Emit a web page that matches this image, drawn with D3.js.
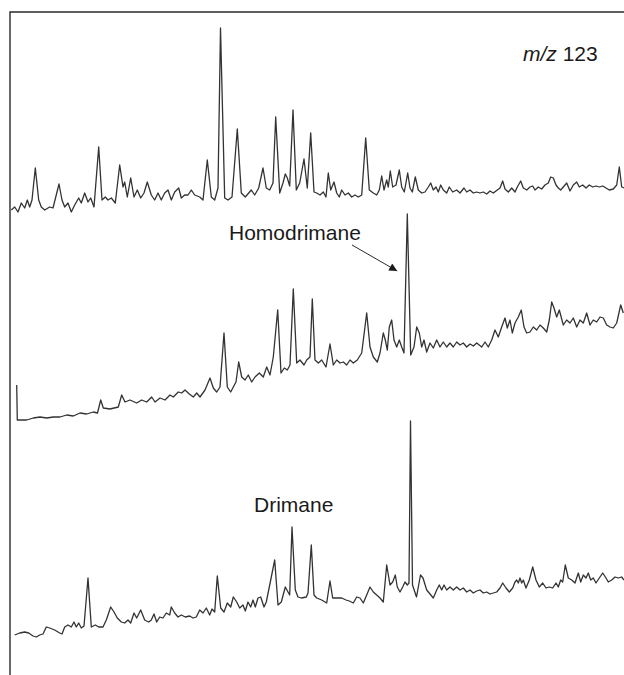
<!DOCTYPE html>
<html>
<head>
<meta charset="utf-8">
<script src="https://cdn.jsdelivr.net/npm/d3@7"></script>
<style>
  body { margin: 0; background: #fff; }
  svg { display: block; }
  .trace { fill: none; stroke: #333; stroke-width: 1.3; stroke-linejoin: round; }
  .label { font-family: "Liberation Sans", Arial, sans-serif; font-size: 21px; fill: #1a1a1a; }
</style>
</head>
<body>
<svg id="chart" width="624" height="675"></svg>
<script>
// m/z 123 mass chromatograms, three samples stacked
// each point = [retention time (min), abundance (arb. units)]
var sample1 = [
  [1.13,5],[1.47,8],[1.8,3],[2.13,12],[2.47,7],[2.73,15],[2.97,8],[3.2,15],[3.53,47],[3.87,15],
  [4.13,8],[4.47,5],[4.97,8],[5.3,7],[5.9,31],[6.2,15],[6.47,8],[6.8,12],[7.13,3],[7.47,10],
  [7.87,17],[8.13,12],[8.47,22],[8.8,13],[9.07,17],[9.4,8],[9.87,68],[10.2,15],[10.53,18],[10.8,15],
  [11.13,17],[11.53,12],[11.97,50],[12.3,28],[12.47,33],[12.73,18],[13.07,37],[13.4,18],[13.73,25],[14.07,17],
  [14.4,22],[14.73,33],[15.13,20],[15.47,15],[15.8,22],[16.13,15],[16.47,22],[16.8,25],[17.13,15],[17.47,23],
  [17.87,27],[18.13,17],[18.47,20],[18.8,20],[19.13,25],[19.47,20],[19.97,18],[20.3,15],[20.73,55],[21.13,18],
  [21.47,15],[21.8,27],[22.05,187],[22.47,17],[22.8,15],[23.2,18],[23.73,86],[24.13,22],[24.53,18],[24.87,22],
  [25.13,25],[25.47,20],[25.87,27],[26.3,47],[26.63,27],[26.97,25],[27.3,32],[27.57,98],[27.97,22],[28.3,32],
  [28.53,41],[28.73,37],[28.97,29],[29.3,105],[29.63,25],[29.97,32],[30.4,56],[30.73,27],[31.07,82],[31.4,23],
  [31.67,22],[32,20],[32.33,23],[32.6,18],[32.83,42],[33.07,25],[33.4,33],[33.67,22],[33.93,18],[34.17,25],
  [34.5,20],[34.83,22],[35.17,18],[35.5,20],[35.83,18],[36.17,20],[36.57,77],[36.93,25],[37.33,22],[37.67,20],
  [37.93,25],[38.17,39],[38.4,25],[38.67,35],[38.83,28],[39.03,44],[39.27,28],[39.6,30],[39.93,45],[40.17,28],
  [40.43,23],[40.77,42],[41,27],[41.23,23],[41.53,38],[41.83,25],[42.17,22],[42.5,23],[42.83,28],[43.07,32],
  [43.33,25],[43.6,28],[43.83,23],[44.07,30],[44.33,25],[44.67,22],[44.93,28],[45.27,23],[45.67,25],[46,22],
  [46.4,27],[46.67,23],[47,25],[47.33,22],[47.67,23],[48,22],[48.33,23],[48.67,21],[49,24],[49.33,22],
  [49.73,25],[50,27],[50.27,34],[50.5,26],[50.83,23],[51.17,27],[51.5,23],[51.73,28],[52.07,34],[52.33,27],
  [52.67,25],[53,28],[53.27,29],[53.5,25],[53.83,28],[54.17,26],[54.5,30],[54.83,32],[55.07,38],[55.33,37],
  [55.6,30],[55.83,27],[56.07,25],[56.33,28],[56.67,32],[57,24],[57.33,30],[57.67,33],[57.93,28],[58.27,30],
  [58.6,27],[58.93,30],[59.27,28],[59.6,29],[59.93,28],[60.27,29],[60.6,27],[60.93,25],[61.33,26],[61.67,30],
  [61.93,48],[62.17,28],[62.4,27]
];

var sample2 = [
  [1.67,40],[1.73,5],[2.67,5],[3.33,7],[4,8],[4.67,7],[5.33,8],[6,8],[6.67,10],[7.33,9],
  [8,12],[8.67,11],[9.33,13],[9.75,12],[10.07,25],[10.33,17],[11,16],[11.83,18],[12.17,30],[12.5,23],
  [13,25],[13.67,22],[14.17,25],[14.67,23],[15.17,28],[15.5,23],[16,27],[16.5,25],[17,30],[17.33,28],
  [17.83,33],[18.17,32],[18.5,35],[18.93,31],[19.33,28],[19.67,32],[20,28],[20.5,35],[21,47],[21.33,37],
  [21.67,33],[22,38],[22.4,92],[22.73,38],[23.07,33],[23.33,38],[23.6,43],[23.87,63],[24.17,48],[24.5,45],
  [24.83,50],[25.17,43],[25.5,48],[25.93,52],[26.33,48],[26.67,58],[27,50],[27.33,68],[27.77,115],[28.1,52],
  [28.43,57],[28.73,55],[29,60],[29.33,136],[29.67,62],[30,65],[30.4,60],[30.67,65],[31,68],[31.23,126],
  [31.5,65],[31.83,62],[32.17,65],[32.6,58],[33,81],[33.33,60],[33.67,65],[34,62],[34.33,63],[34.67,60],
  [35,65],[35.33,62],[35.73,65],[36.17,72],[36.67,112],[37,78],[37.33,68],[37.73,63],[38,72],[38.33,92],
  [38.53,85],[38.73,75],[38.93,98],[39.17,105],[39.4,85],[39.67,78],[39.93,85],[40.17,78],[40.4,72],[40.73,211],
  [41.07,70],[41.4,78],[41.67,98],[41.93,92],[42.17,78],[42.4,85],[42.67,73],[43,82],[43.33,77],[43.67,85],
  [44,78],[44.33,83],[44.67,78],[45,82],[45.33,78],[45.67,83],[46,80],[46.33,82],[46.67,78],[47,81],
  [47.33,79],[47.67,82],[48.17,78],[48.5,83],[48.83,78],[49.17,85],[49.5,95],[49.83,88],[50.17,98],[50.5,107],
  [50.73,97],[51,105],[51.23,92],[51.5,102],[51.83,108],[52.13,115],[52.4,98],[52.67,92],[53,93],[53.33,98],
  [53.67,95],[54,100],[54.33,97],[54.67,93],[54.93,105],[55.17,123],[55.4,117],[55.67,108],[55.93,115],[56.33,100],
  [56.67,105],[57,102],[57.33,107],[57.67,98],[58,105],[58.33,102],[58.67,112],[59,100],[59.33,105],[59.67,103],
  [60,108],[60.33,107],[60.67,100],[61,98],[61.33,97],[61.67,102],[62.07,120],[62.33,112]
];

var sample3 = [
  [1.47,10],[1.97,12],[2.47,13],[2.87,12],[3.3,9],[3.63,8],[3.97,10],[4.3,11],[4.63,18],[4.97,17],
  [5.47,15],[5.97,12],[6.2,11],[6.47,18],[6.8,20],[7.13,18],[7.4,23],[7.63,18],[7.87,22],[8.13,17],
  [8.4,19],[8.8,67],[9.13,18],[9.53,20],[9.87,18],[10.3,18],[10.63,25],[11.07,38],[11.4,33],[11.73,27],
  [12.13,23],[12.47,22],[12.8,25],[13.07,22],[13.4,32],[13.67,27],[14.07,35],[14.47,25],[14.87,23],[15.13,25],
  [15.4,31],[15.67,23],[15.97,28],[16.3,27],[16.63,32],[16.97,30],[17.13,38],[17.47,32],[17.8,28],[18.13,30],
  [18.53,28],[18.97,29],[19.3,27],[19.63,28],[19.97,35],[20.3,32],[20.63,37],[20.97,30],[21.2,36],[21.47,33],
  [21.73,69],[22.07,37],[22.4,33],[22.73,42],[23.07,38],[23.33,48],[23.67,43],[23.97,37],[24.3,40],[24.53,34],
  [24.8,43],[25.07,38],[25.3,45],[25.53,38],[25.8,47],[26.07,48],[26.4,38],[26.63,43],[26.97,60],[27.47,85],
  [27.8,40],[28.13,43],[28.53,58],[28.8,53],[28.97,50],[29.2,118],[29.53,55],[29.8,48],[30.13,47],[30.63,48],
  [30.8,52],[31.13,100],[31.4,50],[31.67,47],[32.17,45],[32.67,42],[33,64],[33.27,47],[33.67,47],[34.17,47],
  [34.6,45],[34.93,44],[35.33,42],[35.67,48],[36,47],[36.33,42],[36.67,50],[37,58],[37.33,53],[37.67,50],
  [38,47],[38.33,43],[38.67,80],[39,60],[39.27,63],[39.53,70],[39.73,58],[40,53],[40.27,58],[40.5,63],
  [40.73,60],[40.9,62],[41.05,224],[41.25,60],[41.65,48],[42.05,70],[42.3,67],[42.67,55],[43.33,47],[43.67,55],
  [43.93,60],[44.17,55],[44.4,60],[44.67,55],[45,58],[45.33,55],[45.67,58],[46,55],[46.33,57],[46.67,53],
  [47,55],[47.33,52],[47.67,54],[48,55],[48.33,52],[48.67,53],[49,51],[49.33,52],[49.67,53],[50,57],
  [50.27,62],[50.6,57],[50.93,53],[51.27,57],[51.5,63],[51.67,65],[51.83,62],[52,67],[52.17,62],[52.33,65],
  [52.6,57],[52.93,65],[53.27,78],[53.6,65],[53.93,58],[54.27,62],[54.6,57],[54.93,58],[55.27,57],[55.6,62],
  [55.83,58],[56.07,65],[56.27,63],[56.53,80],[56.83,67],[57.17,65],[57.5,62],[57.83,72],[58.07,63],[58.33,70],
  [58.6,67],[58.83,72],[59.07,65],[59.33,67],[59.6,62],[59.93,67],[60.27,72],[60.6,67],[60.83,63],[61.17,65],
  [61.5,68],[61.83,67],[62.17,68],[62.4,65]
];

var svg = d3.select("#chart");

// frame: top and left edges only
svg.append("path")
  .attr("d", "M10,675 L10,12 L624,12")
  .attr("fill", "none")
  .attr("stroke", "#2a2a2a")
  .attr("stroke-width", 1.4);

var x = d3.scaleLinear().domain([0, 62.4]).range([0, 624]);

// one vertical band per sample, baseline in pixels
var bande = [
  { dati: sample1, base: 215 },
  { dati: sample2, base: 425 },
  { dati: sample3, base: 645 }
];

bande.forEach(function (b) {
  b.y = d3.scaleLinear().domain([0, 200]).range([b.base, b.base - 200]);
  var linea = d3.line()
    .x(function (d) { return x(d[0]); })
    .y(function (d) { return b.y(d[1]); });
  svg.append("path")
    .datum(b.dati)
    .attr("class", "trace")
    .attr("d", linea);
});

// labels
var mz = svg.append("text")
  .attr("class", "label")
  .attr("x", 523)
  .attr("y", 61);
mz.append("tspan").style("font-style", "italic").text("m/z");
mz.append("tspan").text(" 123");

svg.append("text")
  .attr("class", "label")
  .attr("x", 229)
  .attr("y", 240)
  .text("Homodrimane");

svg.append("text")
  .attr("class", "label")
  .attr("x", 254)
  .attr("y", 512)
  .text("Drimane");

// arrow to homodrimane peak
svg.append("defs").append("marker")
  .attr("id", "punta")
  .attr("viewBox", "0 0 10 10")
  .attr("refX", 10)
  .attr("refY", 5)
  .attr("markerWidth", 10)
  .attr("markerHeight", 8)
  .attr("markerUnits", "userSpaceOnUse")
  .attr("orient", "auto")
  .append("path")
  .attr("d", "M0,0 L10,5 L0,10 Z")
  .attr("fill", "#1a1a1a");

svg.append("line")
  .attr("x1", 352).attr("y1", 245)
  .attr("x2", x(39.72)).attr("y2", bande[1].y(154))
  .attr("stroke", "#2a2a2a")
  .attr("stroke-width", 1)
  .attr("marker-end", "url(#punta)");
</script>
</body>
</html>
